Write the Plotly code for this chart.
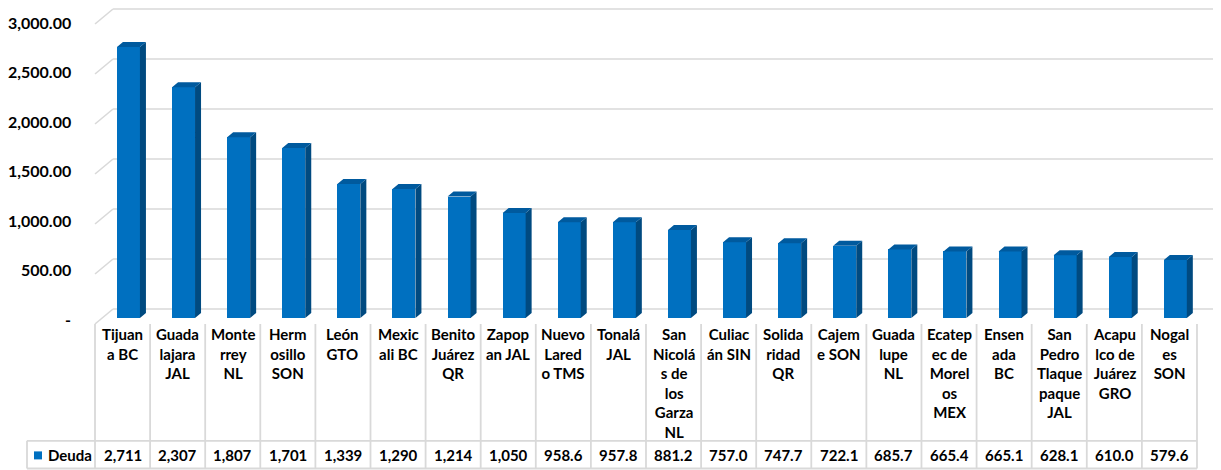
import plotly.graph_objects as go

# Deuda por municipio (millones de pesos)
municipios = [
    "Tijuan<br>a BC", "Guada<br>lajara<br>JAL", "Monte<br>rrey<br>NL", "Herm<br>osillo<br>SON",
    "León<br>GTO", "Mexic<br>ali BC", "Benito<br>Juárez<br>QR", "Zapop<br>an JAL",
    "Nuevo<br>Lared<br>o TMS", "Tonalá<br>JAL", "San<br>Nicolá<br>s de<br>los<br>Garza<br>NL",
    "Culiac<br>án SIN", "Solida<br>ridad<br>QR", "Cajem<br>e SON", "Guada<br>lupe<br>NL",
    "Ecatep<br>ec de<br>Morel<br>os<br>MEX", "Ensen<br>ada<br>BC", "San<br>Pedro<br>Tlaque<br>paque<br>JAL",
    "Acapu<br>lco de<br>Juárez<br>GRO", "Nogal<br>es<br>SON",
]
deuda = [2711, 2307, 1807, 1701, 1339, 1290, 1214, 1050, 958.6, 957.8,
         881.2, 757.0, 747.7, 722.1, 685.7, 665.4, 665.1, 628.1, 610.0, 579.6]
serie = "Deuda"
ticks = [0, 500, 1000, 1500, 2000, 2500, 3000]
tick_text = ["-", "500.00", "1,000.00", "1,500.00", "2,000.00", "2,500.00", "3,000.00"]

FONT = "Lato"
FRONT = "#0070C0"
SIDE = "#004A80"
TOP = "#005A9E"
GRID = "#D9D9D9"

n = len(deuda)
xs = list(range(n))

# 3D-ish geometry (data units)
half = 0.2085
shift = 0.107
dx, dy = 0.109, 50
back_dx, back_dy, front_dy = 0.327, 90, -60

fig = go.Figure()

# back wall gridlines + left wall diagonals (below the bars)
for t in ticks:
    fig.add_shape(type="line", x0=-0.5, y0=t + front_dy, x1=-0.5 + back_dx, y1=t + back_dy,
                  line=dict(color=GRID, width=1.6), layer="below")
    fig.add_shape(type="line", x0=-0.5 + back_dx, y0=t + back_dy, x1=n - 0.5 + 0.38, y1=t + back_dy,
                  line=dict(color=GRID, width=1.6), layer="below")

# front faces
fig.add_trace(go.Bar(x=[i + shift for i in xs], y=deuda, width=2 * half, base=0,
                     marker=dict(color=FRONT, line=dict(width=0)), name=serie,
                     showlegend=False))

# side and top faces
sx, sy, tx, ty = [], [], [], []
for i, v in zip(xs, deuda):
    xl = i + shift - half
    xr = i + shift + half
    sx += [xr, xr + dx, xr + dx, xr, xr, None]
    sy += [0, dy, v + dy, v, 0, None]
    tx += [xl, xl + dx, xr + dx, xr, xl, None]
    ty += [v, v + dy, v + dy, v, v, None]
fig.add_trace(go.Scatter(x=sx, y=sy, mode="lines", fill="toself", fillcolor=SIDE,
                         line=dict(width=0, color=SIDE), hoverinfo="skip", showlegend=False))
fig.add_trace(go.Scatter(x=tx, y=ty, mode="lines", fill="toself", fillcolor=TOP,
                         line=dict(width=0, color=TOP), hoverinfo="skip", showlegend=False))

bold = dict(family=FONT, size=15, color="black", weight="bold")

# y tick labels (front plane)
for t, lab in zip(ticks, tick_text):
    fig.add_annotation(x=-0.9, y=t * 0.99 - 10, text=lab, showarrow=False, xanchor="right",
                       yanchor="middle", font=dict(bold, size=16))

# data table
row_top, row_mid, row_bot = -1228, -1374, -1505
tl, tw = [], []
for k in range(n + 1):
    tl += [k - 0.5, k - 0.5, None]
    tw += [front_dy, row_bot, None]
x_left = -0.5 - 68 / 55.1
tl += [x_left, n - 0.5, None, x_left, n - 0.5, None, x_left, x_left, None]
tw += [row_top, row_top, None, row_bot, row_bot, None, row_top, row_bot, None]
fig.add_trace(go.Scatter(x=tl, y=tw, mode="lines", line=dict(color=GRID, width=1.8),
                         hoverinfo="skip", showlegend=False))

for i, (lab, v) in enumerate(zip(municipios, deuda)):
    fig.add_annotation(x=i, y=-50, text=lab, showarrow=False, xanchor="center", yanchor="top",
                       font=bold)
    txt = f"{v:,.0f}" if v >= 1000 else f"{v:.1f}"
    fig.add_annotation(x=i, y=row_mid, text=txt, showarrow=False, xanchor="center",
                       yanchor="middle", font=bold)

fig.add_trace(go.Scatter(x=[-0.5 - 57 / 55.1], y=[row_mid], mode="markers",
                         marker=dict(symbol="square", size=8, color=FRONT),
                         hoverinfo="skip", showlegend=False))
fig.add_annotation(x=-0.5 - 49 / 55.1, y=row_mid, text=serie, showarrow=False, xanchor="left",
                   yanchor="middle", font=bold)

# page has an 8px body margin, so the figure is sized to what is left of the window
fig.update_layout(
    width=1213, height=462,
    margin=dict(l=0, r=0, t=0, b=0),
    paper_bgcolor="white", plot_bgcolor="white",
    bargap=0,
    xaxis=dict(range=[-2.079, 19.936], visible=False, fixedrange=True),
    yaxis=dict(range=[-1520, 3100], visible=False, fixedrange=True),
    showlegend=False,
)

fig.write_html("out.html")
